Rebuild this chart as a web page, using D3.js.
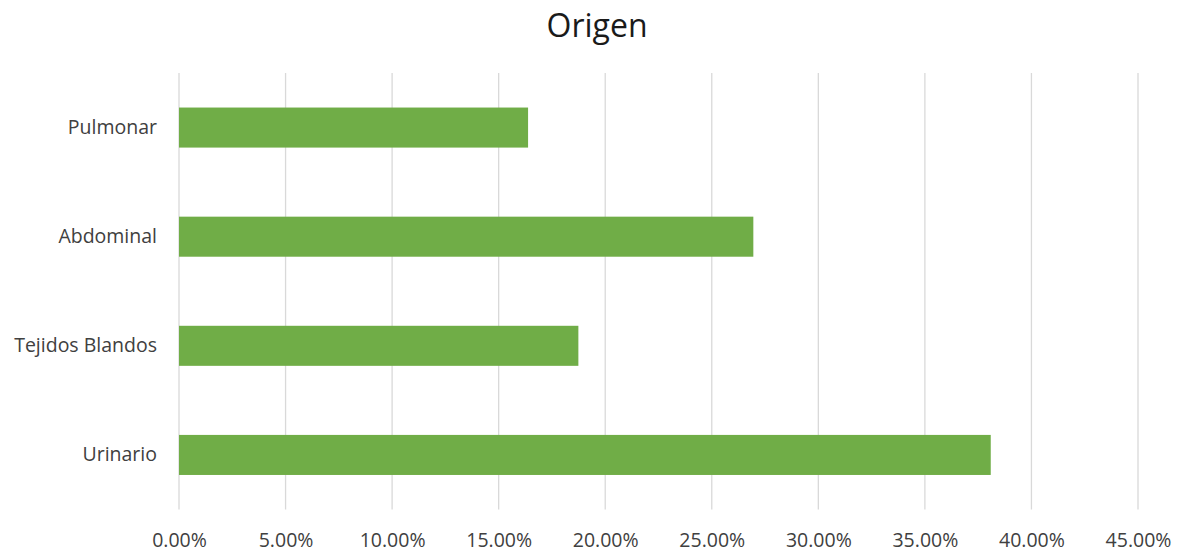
<!DOCTYPE html>
<html><head><meta charset="utf-8">
<script src="https://cdn.jsdelivr.net/npm/d3@7"></script>
<style>body{margin:0;background:#fff}svg{display:block}</style>
</head><body>
<script>
const categories = ["Pulmonar", "Abdominal", "Tejidos Blandos", "Urinario"];
const values = [16.38, 26.95, 18.74, 38.09];
const ticks = [0, 5, 10, 15, 20, 25, 30, 35, 40, 45];
const title = "Origen";

const W = 1179, H = 552;
const m = {left: 179, right: 41, top: 73, bottom: 42.5};
const svg = d3.select("body").append("svg").attr("width", W).attr("height", H);
const font = "'Open Sans', 'Noto Sans', sans-serif";

const x = d3.scaleLinear().domain([0, 45]).range([m.left, W - m.right]);
const y = d3.scaleBand().domain(categories).range([m.top, H - m.bottom])
  .paddingInner(0.633).paddingOuter(0.3165);

svg.append("g").selectAll("line").data(ticks).join("line")
  .attr("x1", d => x(d)).attr("x2", d => x(d))
  .attr("y1", m.top).attr("y2", H - m.bottom)
  .attr("stroke", "#d9d9d9").attr("stroke-width", 1.3);

svg.append("g").selectAll("rect").data(values).join("rect")
  .attr("x", x(0)).attr("y", (d, i) => y(categories[i]))
  .attr("width", d => x(d) - x(0)).attr("height", y.bandwidth())
  .attr("fill", "#70ad47");

const xa = svg.append("g").attr("transform", `translate(0,${H - m.bottom})`)
  .call(d3.axisBottom(x).tickValues(ticks).tickFormat(d => d.toFixed(2) + "%").tickSize(0));
xa.select(".domain").remove();
xa.selectAll("text").attr("y", 37).attr("dy", 0)
  .attr("font-family", font).attr("font-size", 19.5).attr("fill", "#404040");

const ya = svg.append("g").attr("transform", `translate(${m.left},0)`)
  .call(d3.axisLeft(y).tickSize(0).tickPadding(22));
ya.select(".domain").remove();
ya.selectAll("text").attr("font-family", font).attr("font-size", 19.5).attr("fill", "#404040");

svg.append("text").attr("x", 597).attr("y", 37).attr("text-anchor", "middle")
  .attr("font-family", font).attr("font-size", 32).attr("fill", "#1a1a1a").text(title);
</script>
</body></html>
